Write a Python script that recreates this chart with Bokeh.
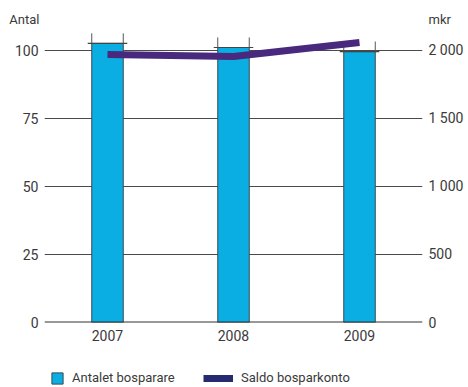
from bokeh.plotting import figure
from bokeh.layouts import column
from bokeh.models import (Range1d, LinearAxis, FixedTicker, Legend, LegendItem,
                          CustomJSTickFormatter, Span, ColumnDataSource)
from bokeh.transform import dodge
from bokeh.embed import file_html
from bokeh.resources import INLINE

years = ["2007", "2008", "2009"]
antal = [102.6, 101.1, 99.6]          # Antalet bosparare (left axis)
saldo = [1970, 1956, 2059]            # Saldo bosparkonto, mkr (right axis)
left_ticks = [0, 25, 50, 75, 100]
right_ticks = [0, 500, 1000, 1500, 2000]
left_title = "Antal"
right_title = "mkr"

FONT = "Roboto"
TXT = "#3a3a3a"
BAR = "#0aaee3"
LINE = "#48297e"
W = 466
BL, BR = 44, 44


def plain_axis(ax, standoff, size="14px"):
    ax.axis_line_color = None
    ax.major_tick_line_color = None
    ax.minor_tick_line_color = None
    ax.major_tick_out = 0
    ax.major_tick_in = 0
    ax.minor_tick_out = 0
    ax.minor_tick_in = 0
    ax.major_label_text_font = FONT
    ax.major_label_text_font_size = size
    ax.major_label_text_color = TXT
    ax.major_label_standoff = standoff


# ---- top strip carrying the axis titles ----
top = figure(width=W, height=30, x_range=(0, 1), y_range=(0, 30), output_backend="svg",
             toolbar_location=None, x_axis_location=None,
             min_border_left=BL, min_border_right=BR, min_border_top=0, min_border_bottom=0)
top.outline_line_color = None
top.grid.visible = False
top.yaxis.ticker = FixedTicker(ticks=[11])
top.yaxis.major_label_overrides = {11: left_title}
plain_axis(top.yaxis[0], 5, "13px")
tr = LinearAxis(ticker=FixedTicker(ticks=[11]), major_label_overrides={11: right_title})
plain_axis(tr, 6, "13px")
top.add_layout(tr, "right")

# ---- main chart ----
src = ColumnDataSource(dict(x=years, top=antal, mark=[a + 3.7 for a in antal]))

p = figure(width=W, height=322, x_range=years, y_range=Range1d(0, 107.35),
           output_backend="svg", toolbar_location=None,
           min_border_left=BL, min_border_right=BR, min_border_top=0, min_border_bottom=30)
p.outline_line_color = None
p.extra_y_ranges = {"mkr": Range1d(0, 2147)}

bars = p.vbar(x="x", top="top", width=0.25, source=src, fill_color=BAR,
              line_color="#3c4a52", line_width=1)
for off in (-0.125, 0.125):
    p.segment(x0=dodge("x", off, range=p.x_range), y0="top",
              x1=dodge("x", off, range=p.x_range), y1="mark", source=src,
              line_color="#555555", line_width=1)
p.segment(x0=dodge("x", -0.157, range=p.x_range), y0="top",
          x1=dodge("x", 0.157, range=p.x_range), y1="top", source=src,
          line_color="#444444", line_width=1.2)

line = p.line(x=years, y=saldo, y_range_name="mkr", line_color=LINE, line_width=7)

p.yaxis.ticker = FixedTicker(ticks=left_ticks)
plain_axis(p.yaxis[0], 6)

ra = LinearAxis(y_range_name="mkr", ticker=FixedTicker(ticks=right_ticks),
                formatter=CustomJSTickFormatter(code="return tick.toString().replace(/\\B(?=(\\d{3})+(?!\\d))/g, ' ');"))
plain_axis(ra, 6)
p.add_layout(ra, "right")

plain_axis(p.xaxis[0], 7)

p.xgrid.grid_line_color = None
p.ygrid.grid_line_color = "#4a4a4a"
p.ygrid.grid_line_width = 1
p.ygrid.level = "underlay"
p.add_layout(Span(location=0, dimension="width", line_color="#333333", line_width=2))

# ---- legend strip ----
lg = figure(width=W, height=33, x_range=(0, 1), y_range=(0, 1), output_backend="svg",
            toolbar_location=None, x_axis_location=None, y_axis_location=None,
            min_border_left=BL, min_border_right=BR, min_border_top=0, min_border_bottom=0)
lg.outline_line_color = None
lg.grid.visible = False
r1 = lg.vbar(x=[0.5], top=[0.5], width=0.1, fill_color=BAR, line_color="#3c4a52", visible=False)
r2 = lg.line(x=[0, 1], y=[0.5, 0.5], line_color="#262a6e", line_width=7, visible=False)
common = dict(orientation="horizontal", label_text_font=FONT, label_text_font_size="13px",
              label_text_color=TXT, glyph_height=14, label_standoff=8, label_height=14,
              border_line_color=None, background_fill_alpha=0, padding=0, margin=0,
              inactive_fill_alpha=0)
lg.add_layout(Legend(items=[LegendItem(label="Antalet bosparare", renderers=[r1])],
                     glyph_width=14, location=(6, 0), **common))
lg.add_layout(Legend(items=[LegendItem(label="Saldo bosparkonto", renderers=[r2])],
                     glyph_width=30, location=(159, 0), **common))

open("out.html", "w").write(file_html(column(top, p, lg, spacing=0), INLINE))
